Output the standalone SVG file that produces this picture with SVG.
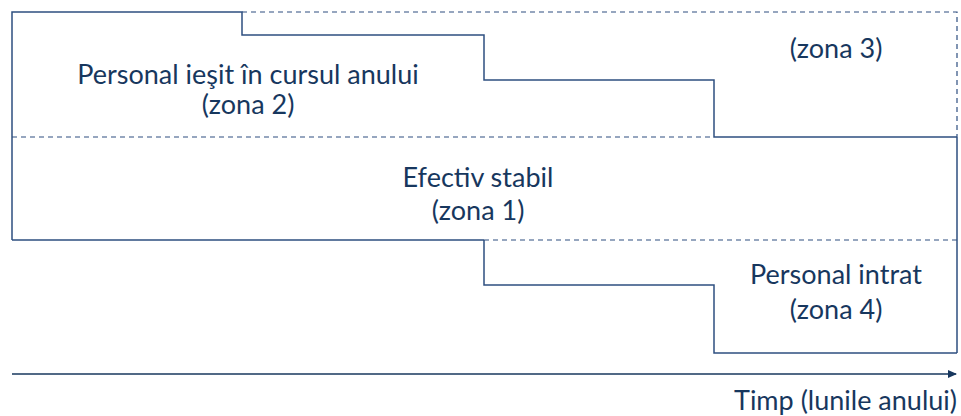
<svg xmlns="http://www.w3.org/2000/svg" width="961" height="416" viewBox="0 0 961 416">
<style>
.s{fill:none;stroke:#2E4F80;stroke-width:1.5}
.d{fill:none;stroke:#2E4F80;stroke-width:1.2;stroke-dasharray:5,4}
text{font-family:Lato,"Open Sans",sans-serif;font-size:27px;fill:#17375E;text-anchor:middle}
</style>
<defs>
<marker id="ah" markerWidth="10" markerHeight="10" refX="8" refY="5" orient="auto" markerUnits="userSpaceOnUse">
<path d="M0,1 L9,5 L0,9 Z" fill="#17375E"/>
</marker>
</defs>
<g id="zone2">
<path class="s" d="M12,240 V12 H242 V35 H484 V80 H714 V137 H957"/>
<path class="d" d="M12,137 H714"/>
<text x="248" y="84">Personal ieşit în cursul anului</text>
<text x="248" y="114">(zona 2)</text>
</g>
<g id="zone3">
<path class="d" d="M242,12 H957 V137"/>
<text x="836" y="58">(zona 3)</text>
</g>
<g id="zone1">
<path class="s" d="M957,137 V353 M12,240 H484"/>
<text x="478" y="187">Efectiv stabil</text>
<text x="478" y="220">(zona 1)</text>
</g>
<g id="zone4">
<path class="s" d="M484,240 V285 H714 V353 H957"/>
<path class="d" d="M484,240 H957"/>
<text x="836" y="284">Personal intrat</text>
<text x="836" y="319">(zona 4)</text>
</g>
<g id="connectors">
<line x1="12" y1="374" x2="956" y2="374" stroke="#17375E" stroke-width="1.5" marker-end="url(#ah)"/>
</g>
<g id="axis-label">
<text x="957" y="410" style="text-anchor:end">Timp (lunile anului)</text>
</g>
</svg>
